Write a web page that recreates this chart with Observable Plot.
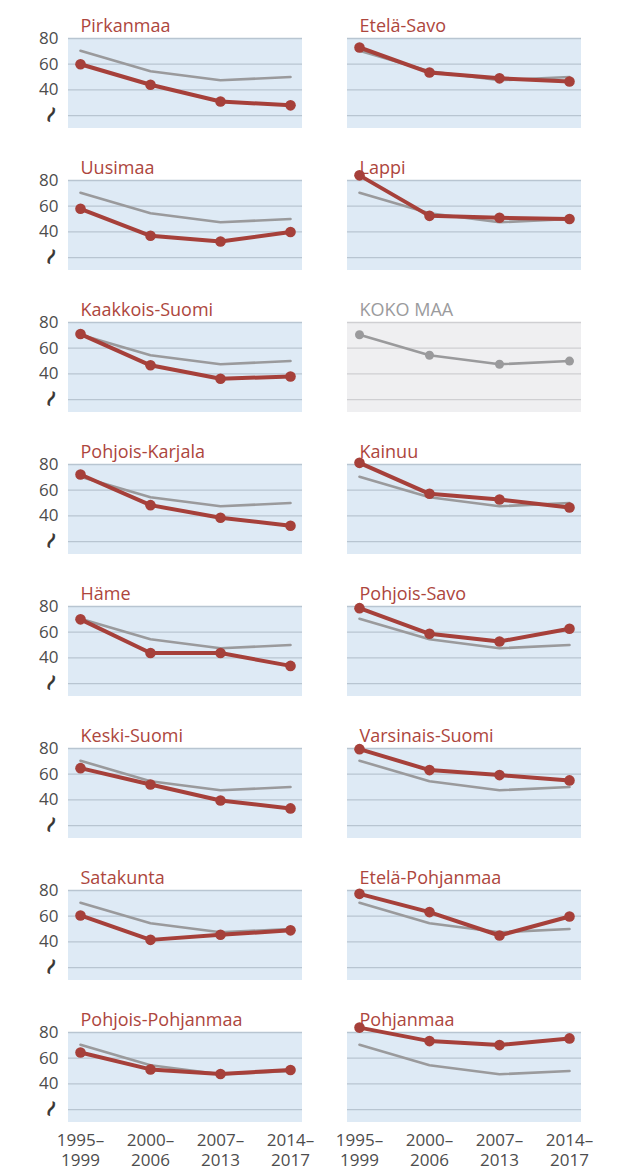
<!DOCTYPE html>
<html>
<head>
<meta charset="utf-8">
<script src="https://cdn.jsdelivr.net/npm/d3@7"></script>
<script src="https://cdn.jsdelivr.net/npm/@observablehq/plot@0.6"></script>
<style>
  html, body { margin: 0; padding: 0; background: #fff; }
  #chart svg { display: block; }
</style>
</head>
<body>
<div id="chart"></div>
<script>
// ---- data ----
const periods = ["1995–1999", "2000–2006", "2007–2013", "2014–2017"];
const regions = [
  "Pirkanmaa", "Etelä-Savo",
  "Uusimaa", "Lappi",
  "Kaakkois-Suomi", "KOKO MAA",
  "Pohjois-Karjala", "Kainuu",
  "Häme", "Pohjois-Savo",
  "Keski-Suomi", "Varsinais-Suomi",
  "Satakunta", "Etelä-Pohjanmaa",
  "Pohjois-Pohjanmaa", "Pohjanmaa"
];
const regionValues = [
  [60, 44, 31, 28],
  [73, 53.5, 49, 46.5],
  [58, 37, 32.5, 40],
  [84, 52.5, 51, 50],
  [71, 46.7, 36.3, 38],
  [71, 55, 48, 50],
  [72.2, 48.4, 38.6, 32.4],
  [81.3, 57.2, 52.8, 46.6],
  [70, 43.8, 43.8, 33.8],
  [78.7, 58.8, 52.8, 62.7],
  [64.7, 52, 39.6, 33.4],
  [79.5, 63.2, 59.3, 55.2],
  [60.6, 41.6, 45.6, 49],
  [77.4, 63.2, 45, 59.8],
  [64.4, 51.3, 47.7, 50.8],
  [83.8, 73.3, 70.2, 75.4]
];
const national = [70.5, 54.5, 47.5, 50];
const nationalName = "KOKO MAA";
const yTicks = [40, 60, 80];
const breakTick = [20];
const gridTicks = [20, 40, 60, 80];

// ---- styles ----
const RED = "#a6403a";
const RED_TITLE = "#ad463d";
const GRAY = "#9a9a9c";
const BG = "#deeaf5";
const BG_NAT = "#efeff1";
const GRID = "#b8c5d1";
const GRID_NAT = "#cfcfd2";

// ---- derived tables ----
const panels = regions.map((name, i) => ({
  name, col: i % 2, row: Math.floor(i / 2), nat: name === nationalName
}));
const regionRows = panels.filter(p => !p.nat).flatMap((p) =>
  periods.map((period, j) => ({...p, period, value: regionValues[regions.indexOf(p.name)][j]})));
const natRows = panels.flatMap(p =>
  periods.map((period, j) => ({...p, period, value: national[j]})));
const gridRows = panels.flatMap(p => gridTicks.map(v => ({...p, v})));
const breakRows = panels.filter(p => p.col === 0).flatMap(p => breakTick.map(v => ({...p, v})));

const chart = Plot.plot({
  width: 623,
  height: 1169,
  marginTop: 37,
  marginBottom: 45,
  marginLeft: 67,
  marginRight: 42,
  style: {fontFamily: "'Open Sans', sans-serif", background: "#fff", overflow: "visible"},
  fx: {domain: [0, 1], paddingInner: 0.162, paddingOuter: 0, axis: null},
  fy: {domain: d3.range(8), paddingInner: 0.363, paddingOuter: 0, axis: null},
  x: {type: "point", domain: periods, padding: 0.15, label: null},
  y: {domain: [10, 80], label: null},
  color: {type: "identity"},
  marks: [
    Plot.rect(panels, {fx: "col", fy: "row", fill: d => d.nat ? BG_NAT : BG}),
    Plot.ruleY(gridRows, {fx: "col", fy: "row", y: "v", stroke: d => d.nat ? GRID_NAT : GRID, strokeWidth: 1.3}),
    Plot.axisY(yTicks, {tickSize: 0, tickPadding: 10, fontSize: 17, fill: "#4d4d4d", label: null}),
    Plot.text(breakRows, {fx: "col", fy: "row", y: "v", text: () => "∼", frameAnchor: "left", dx: -22, dy: 7, rotate: -62,
      fontSize: 22, fill: "#333", stroke: "#333", strokeWidth: 0.7}),
    Plot.axisX({tickSize: 0, tickPadding: 10, fontSize: 17, fill: "#4d4d4d", lineHeight: 1.15, label: null,
      tickFormat: d => d.replace("–", "–\n")}),
    Plot.text(panels, {fx: "col", fy: "row", text: "name", frameAnchor: "top-left", dx: 12, dy: -7,
      lineAnchor: "bottom", fontSize: 18, fill: d => d.nat ? "#9b9b9d" : RED_TITLE}),
    Plot.line(natRows, {fx: "col", fy: "row", x: "period", y: "value", z: "name", stroke: GRAY, strokeWidth: 2.6}),
    Plot.dot(natRows.filter(d => d.nat), {fx: "col", fy: "row", x: "period", y: "value", r: 4.5, fill: GRAY}),
    Plot.line(regionRows, {fx: "col", fy: "row", x: "period", y: "value", z: "name", stroke: RED, strokeWidth: 4}),
    Plot.dot(regionRows, {fx: "col", fy: "row", x: "period", y: "value", r: 5.3, fill: RED})
  ]
});
document.getElementById("chart").appendChild(chart);
</script>
</body>
</html>
